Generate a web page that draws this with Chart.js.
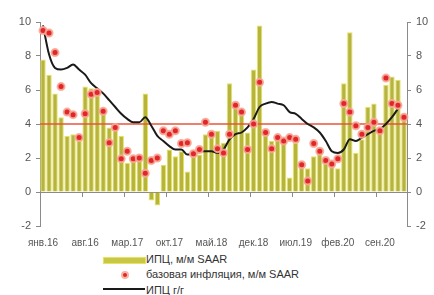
<!DOCTYPE html>
<html>
<head>
<meta charset="utf-8">
<script src="https://cdn.jsdelivr.net/npm/chart.js@4"></script>
<style>
  html, body { margin: 0; padding: 0; width: 434px; height: 295px; overflow: hidden; background: #fff; }
  body { position: relative; font-family: "Liberation Sans", Arial, sans-serif; }
  #chart { position: absolute; left: 0; top: 0; }
  .sym, .txt { position: absolute; }
  .txt { font-size: 11px; line-height: 13px; color: #333; white-space: nowrap; }
</style>
</head>
<body>
<canvas id="chart" width="434" height="252"></canvas>

<div class="sym" style="left:103px;top:257px;width:41px;height:5px;background:#c9c748;border:1px solid #e6e45e"></div>
<div class="txt" style="left:146px;top:253px">ИПЦ, м/м SAAR</div>
<div class="sym" style="left:121px;top:271px;width:4px;height:4px;border-radius:50%;background:#e0262b;border:2px solid #f7b3a3"></div>
<div class="txt" style="left:146px;top:268px">базовая инфляция, м/м SAAR</div>
<div class="sym" style="left:103px;top:288px;width:42px;height:2px;background:#1a1a1a"></div>
<div class="txt" style="left:146px;top:284px">ИПЦ г/г</div>

<script>
// Categories: Jan 2016 .. Jan 2021
const monthNames = ["янв", "фев", "мар", "апр", "май", "июн", "июл", "авг", "сен", "окт", "ноя", "дек"]
const years = ["16", "17", "18", "19", "20", "21"]
const labels = []
years.forEach((yy) => monthNames.forEach((m) => labels.push(m + "." + yy)))
labels.length = 61

// ИПЦ, м/м SAAR (bars)
const cpiMoM = [7.8, 6.9, 5.8, 4.4, 3.3, 3.4, 3.0, 6.2, 6.1, 5.7,
  4.8, 3.8, 3.8, 3.3, 1.7, 1.9, 2.0, 5.8, -0.5, -0.8,
  1.6, 2.5, 2.1, 2.4, 1.2, 2.1, 2.2, 3.4, 3.3, 3.6,
  2.9, 6.4, 5.1, 4.7, 3.5, 7.2, 9.8, 3.6, 3.0, 3.3,
  2.9, 0.85, 2.9, 1.6, 1.4, 2.1, 2.6, 2.0, 1.5, 1.4,
  6.4, 9.4, 2.3, 3.1, 5.0, 5.2, 3.6, 6.3, 6.8, 6.6, 4.3]

// базовая инфляция, м/м SAAR (dots)
const coreMoM = [9.5, 9.35, 8.2, 6.2, 4.7, 4.55, 3.2, 4.6, 5.75, 5.85,
  4.75, 2.9, 3.8, 1.95, 2.4, 1.95, 2.0, 1.1, 1.85, 2.0,
  3.6, 3.4, 3.6, 2.85, 2.9, 2.25, 2.5, 4.1, 3.4, 2.55,
  2.3, 3.4, 5.1, 4.7, 2.5, 4.0, 6.45, 3.5, 2.55, 3.2,
  3.0, 3.2, 3.1, 1.6, 0.65, 2.85, 2.4, 1.85, 1.65, 1.95,
  5.2, 4.7, 3.9, 3.4, 3.8, 4.1, 3.6, 6.7, 5.2, 5.1, 4.4]

// ИПЦ г/г (line)
const cpiYoY = [9.8, 8.1, 7.3, 7.2, 7.3, 7.5, 7.2, 6.9, 6.4, 6.1,
  5.8, 5.4, 5.0, 4.6, 4.3, 4.1, 4.1, 4.4, 3.9, 3.3,
  3.0, 2.7, 2.5, 2.5, 2.2, 2.2, 2.4, 2.4, 2.4, 2.3,
  2.5, 3.1, 3.4, 3.5, 3.8, 4.3, 5.0, 5.2, 5.3, 5.2,
  5.1, 4.7, 4.6, 4.3, 4.0, 3.8, 3.5, 3.0, 2.4, 2.3,
  2.5, 3.1, 3.0, 3.2, 3.4, 3.6, 3.7, 4.0, 4.4, 4.9, null]

// inflation target
const targetLevel = 4
const yMin = -2
const yMax = 10
const yStep = 2
const labelEvery = 7

// red target line, drawn just above the bars
const targetLine = {
  id: "targetLine",
  afterDatasetDraw(chart, args) {
    if (args.index !== 0) return
    const { ctx, chartArea } = chart
    const y = chart.scales.y.getPixelForValue(targetLevel)
    ctx.save()
    ctx.strokeStyle = "#e9553d"
    ctx.lineWidth = 1.5
    ctx.beginPath()
    ctx.moveTo(chartArea.left, y)
    ctx.lineTo(chartArea.right, y)
    ctx.stroke()
    ctx.restore()
  },
}

const axisGrey = "#8a8a8a"
const tickFont = { family: "'Liberation Sans', Arial, sans-serif", size: 11 }

new Chart(document.getElementById("chart"), {
  type: "bar",
  data: {
    labels: labels,
    datasets: [
      {
        label: "ИПЦ, м/м SAAR",
        data: cpiMoM,
        backgroundColor: "#b6b43c",
        borderColor: "#e4e25c",
        borderWidth: 1,
        barPercentage: 0.9,
        categoryPercentage: 1,
        order: 3,
      },
      {
        type: "line",
        label: "базовая инфляция, м/м SAAR",
        data: coreMoM,
        showLine: false,
        pointRadius: 3.5,
        pointBorderWidth: 2,
        pointBackgroundColor: "#e0262b",
        pointBorderColor: "rgba(247, 170, 150, 0.9)",
        order: 1,
      },
      {
        type: "line",
        label: "ИПЦ г/г",
        data: cpiYoY,
        borderColor: "#1a1a1a",
        borderWidth: 2,
        pointRadius: 0,
        cubicInterpolationMode: "monotone",
        fill: false,
        order: 2,
      },
    ],
  },
  options: {
    responsive: false,
    animation: false,
    devicePixelRatio: 1,
    layout: { padding: { top: 22, left: 0, right: 0, bottom: 0 } },
    plugins: {
      legend: { display: false },
      tooltip: { enabled: false },
    },
    scales: {
      x: {
        position: { y: 0 },
        offset: true,
        ticks: { display: false, autoSkip: false },
        grid: {
          offset: true,
          drawOnChartArea: false,
          tickLength: 4,
          color: (c) => (c.index % labelEvery === 0 ? axisGrey : "rgba(0,0,0,0)"),
        },
        border: { color: axisGrey },
      },
      xl: {
        type: "category",
        axis: "x",
        position: "bottom",
        offset: true,
        grid: { display: false },
        border: { display: false },
        ticks: {
          autoSkip: false,
          maxRotation: 0,
          padding: 3,
          color: "#555",
          font: { family: tickFont.family, size: 10 },
          callback: (v, i) => (i % labelEvery === 0 ? labels[i] : ""),
        },
        afterFit(s) { s.height = 26 },
      },
      y: {
        position: "left",
        min: yMin,
        max: yMax,
        ticks: { stepSize: yStep, color: "#555", font: tickFont, padding: 5 },
        grid: { drawOnChartArea: false, tickLength: 4, color: axisGrey },
        border: { color: axisGrey },
        afterFit(s) { s.width = 40 },
      },
      y2: {
        position: "right",
        min: yMin,
        max: yMax,
        ticks: { stepSize: yStep, color: "#555", font: tickFont, padding: 5 },
        grid: { drawOnChartArea: false, tickLength: 4, color: axisGrey },
        border: { color: axisGrey },
        afterFit(s) { s.width = 27 },
      },
    },
  },
  plugins: [targetLine],
})
</script>
</body>
</html>
